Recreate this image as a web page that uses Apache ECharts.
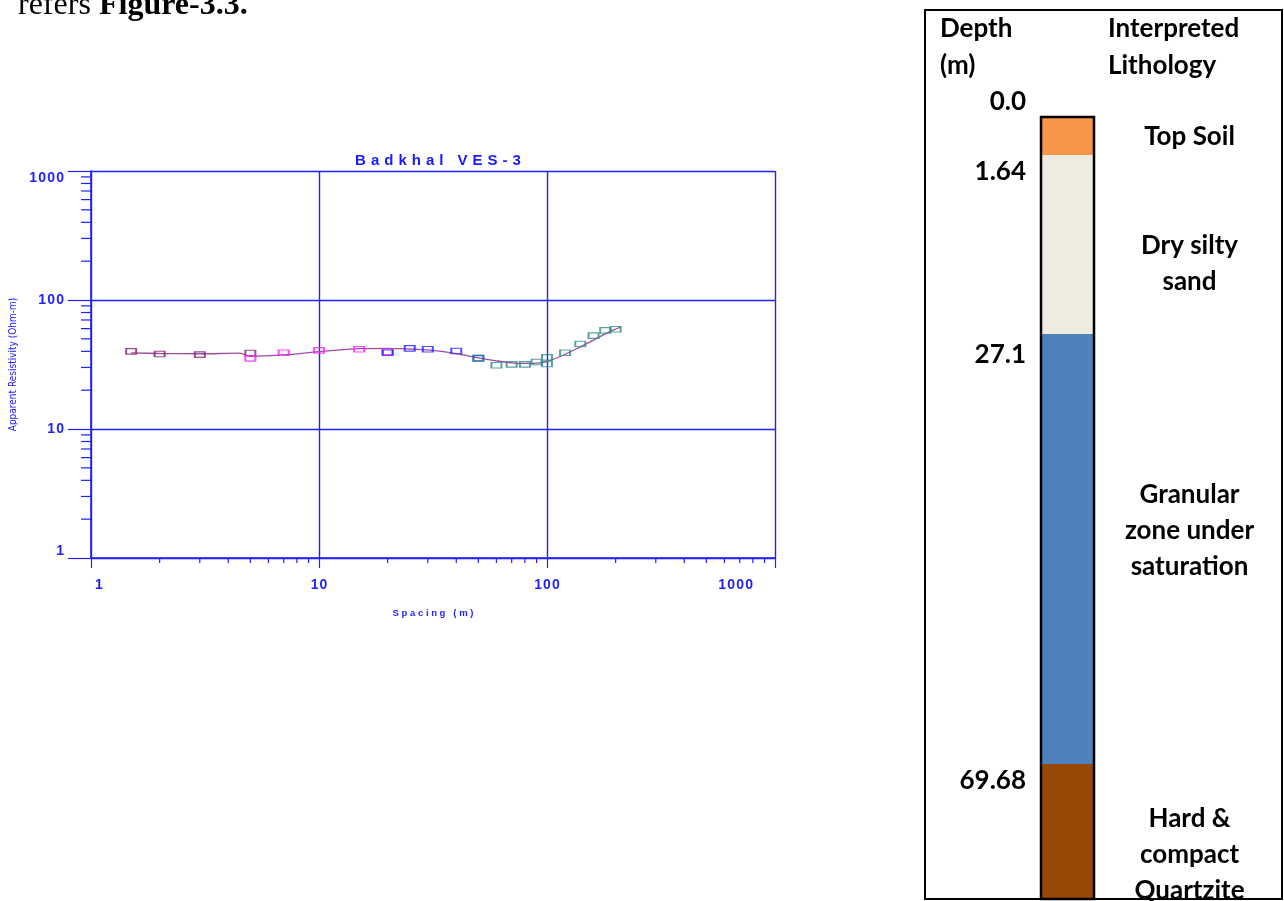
<!DOCTYPE html>
<html><head><meta charset="utf-8">
<script src="https://cdn.jsdelivr.net/npm/echarts@6/dist/echarts.min.js"></script>
<style>html,body{margin:0;padding:0;background:#fff}#c{width:1284px;height:901px}</style>
</head><body><div id="c"></div>
<script>
// ---------------- data ----------------
const chartTitle = 'Badkhal VES-3';
const xAxisName = 'Spacing (m)';
const yAxisName = 'Apparent Resistivity (Ohm-m)';
// observed apparent resistivity, by segment (AB/2 spacing in m, rho in Ohm-m)
const spacingA = [1.5, 2, 3, 5];
const rhoA = [40.0, 38.1, 37.7, 38.8];
const spacingB = [5, 7, 10, 15, 20];
const rhoB = [35.3, 39.0, 40.7, 41.5, 39.7];
const spacingC = [20, 25, 30, 40, 50];
const rhoC = [39.0, 42.2, 41.5, 40.2, 35.3];
const spacingD = [50, 60, 70, 80, 90, 100, 100, 120, 140, 160, 180, 200];
const rhoD = [35.6, 31.2, 31.7, 31.7, 33.1, 35.9, 31.9, 39.0, 45.6, 52.9, 58.2, 59.3];
// fitted model curve
const curveSpacing = [1.5, 2, 3, 4.5, 5, 7, 10, 15, 20, 25, 30, 40, 50, 60, 70, 80, 90, 100, 120, 140, 160, 180, 210];
const curveRho = [38.9, 38.5, 38.3, 38.7, 36.6, 37.5, 39.8, 42.0, 42.2, 41.7, 41.0, 38.4, 35.6, 33.8, 32.6, 32.3, 32.4, 33.3, 37.9, 43.3, 48.9, 54.7, 61.8];
// log-axis minor tick values
const minorTickValues = [2,3,4,5,6,7,8,9,20,30,40,50,60,70,80,90,200,300,400,500,600,700,800,900];

// lithology log
const depthHeader = ['Depth', '(m)'];
const lithoHeader = ['Interpreted', 'Lithology'];
const depthLabels = ['0.0', '1.64', '27.1', '69.68'];
const layerNames = ['Top Soil', 'Dry silty\nsand', 'Granular\nzone under\nsaturation', 'Hard &\ncompact\nQuartzite'];
const layerSchematicThickness = [38, 179, 430, 135];
const pageNote = ['refers ', 'Figure-3.3.'];

// ---------------- styles / layout ----------------
const BLUE = '#1f1fff';
const SANS = '"Liberation Sans", Arial, sans-serif';
const LITHO_FONT = 'Lato, "Noto Sans", sans-serif';
const segColors = ['#7d2470', '#ff1cff', '#2020ff', '#2f8c88'];
const layerColors = ['#F79646', '#EEECE1', '#4F81BD', '#984807'];
const layerLabelDy = [1, 19, -18, 23];
const depthLabelY = [102, 172, 355, 781];

const spaced = s => String(s).split('').join('\u200A');
const zip = (a, b) => a.map((v, i) => [v, b[i]]);

const scatter = (xs, ys, c) => ({
  type: 'scatter', xAxisIndex: 0, yAxisIndex: 0,
  data: zip(xs, ys), symbol: 'rect', symbolSize: [10, 5.5], z: 4,
  itemStyle: { color: 'rgba(255,255,255,0)', borderColor: c, borderWidth: 1.5 }
});

const lithoSeries = layerNames.map((name, i) => ({
  type: 'bar', xAxisIndex: 1, yAxisIndex: 1, stack: 'litho', barWidth: '100%',
  name, data: [layerSchematicThickness[i]], itemStyle: { color: layerColors[i] },
  label: {
    show: true, position: 'inside', offset: [122, layerLabelDy[i]], formatter: name,
    color: '#000', fontSize: 26, fontWeight: 'bold', fontFamily: LITHO_FONT, lineHeight: 36, align: 'center'
  }
}));

const txt = (text, x, y, align, extra) => ({
  type: 'text', x, y, z: 10,
  style: Object.assign({ text, fill: '#000', font: 'bold 26px ' + LITHO_FONT, align, verticalAlign: 'middle' }, extra || {})
});

const graphics = [
  { type: 'rect', shape: { x: 925, y: 10, width: 357, height: 889 }, style: { fill: 'none', stroke: '#000', lineWidth: 2 }, z: -1 },
  txt(depthHeader[0], 940, 29, 'left'), txt(depthHeader[1], 940, 66, 'left'),
  txt(lithoHeader[0], 1108, 29, 'left'), txt(lithoHeader[1], 1108, 66, 'left'),
  ...depthLabels.map((d, i) => txt(d, 1026, depthLabelY[i], 'right')),
  { type: 'text', x: 18, y: 6, style: { text: pageNote[0], fill: '#000', font: '32px "Liberation Serif", "Times New Roman", serif', align: 'left', verticalAlign: 'middle' } },
  { type: 'text', x: 99, y: 6, style: { text: pageNote[1], fill: '#000', font: 'bold 32px "Liberation Serif", "Times New Roman", serif', align: 'left', verticalAlign: 'middle' } }
];

const minorTick = (axis) => ({
  type: 'custom', xAxisIndex: 0, yAxisIndex: 0, silent: true, clip: false, z: 1,
  data: minorTickValues.map(v => axis === 'x' ? [v, 1] : [1, v]),
  renderItem: (params, api) => {
    const p = api.coord([api.value(0), api.value(1)]);
    const shape = axis === 'x'
      ? { x1: p[0], y1: p[1], x2: p[0], y2: p[1] + 5 }
      : { x1: p[0], y1: p[1], x2: p[0] - 10, y2: p[1] };
    return { type: 'line', shape, style: { stroke: BLUE, lineWidth: 1.2 } };
  }
});

const axisLabelBase = { color: BLUE, fontWeight: 'bold', fontSize: 14, fontFamily: SANS };

const option = {
  animation: false,
  backgroundColor: '#fff',
  title: {
    text: chartTitle.split('').join('\u2004'), left: 433, top: 148, textAlign: 'center',
    textStyle: { color: '#1a1aff', fontSize: 15, fontWeight: 'bold', fontFamily: SANS }
  },
  grid: [
    { left: 91, top: 171, width: 684, height: 387, outerBoundsMode: 'none' },
    { left: 1041, top: 117, width: 53, bottom: 2, show: true, borderColor: '#000', borderWidth: 2.5, z: 5, outerBoundsMode: 'none' }
  ],
  xAxis: [
    {
      type: 'log', logBase: 10, min: 1, max: 1000, gridIndex: 0,
      name: xAxisName.split('').join(' '), nameLocation: 'middle', nameGap: 50,
      nameTextStyle: { color: BLUE, fontSize: 9.5, fontWeight: 'bold', fontFamily: SANS },
      axisLine: { lineStyle: { color: BLUE, width: 1.6 } },
      axisTick: { length: 10, lineStyle: { color: BLUE, width: 1.2 } },
      axisLabel: Object.assign({}, axisLabelBase, {
        margin: 20, alignMinLabel: 'left', alignMaxLabel: 'right',
        formatter: v => v === 1000 ? '{e|' + spaced(v) + '}' : (v === 1 ? '{s|' + spaced(v) + '}' : spaced(v)),
        rich: {
          e: Object.assign({}, axisLabelBase, { padding: [0, 22, 0, 0] }),
          s: Object.assign({}, axisLabelBase, { padding: [0, 0, 0, 4] })
        }
      }),
      splitLine: { show: true, showMinLine: true, showMaxLine: true, lineStyle: { color: BLUE, width: 1.4 } }
    },
    { type: 'category', gridIndex: 1, data: ['col'], show: false }
  ],
  yAxis: [
    {
      type: 'log', logBase: 10, min: 1, max: 1000, gridIndex: 0,
      name: yAxisName, nameLocation: 'middle', nameGap: 73, nameRotate: 90, nameMoveOverlap: false,
      nameTextStyle: { color: '#1a1aff', fontSize: 10, fontFamily: '"Liberation Sans Narrow", "DejaVu Sans Condensed", sans-serif' },
      axisLine: { lineStyle: { color: BLUE, width: 1.6 } },
      axisTick: { length: 23, lineStyle: { color: BLUE, width: 1.2 } },
      axisLabel: Object.assign({}, axisLabelBase, {
        margin: 27, verticalAlignMinLabel: 'bottom', verticalAlignMaxLabel: 'top',
        formatter: v => spaced(v)
      }),
      splitLine: { show: true, showMinLine: true, showMaxLine: true, lineStyle: { color: BLUE, width: 1.4 } }
    },
    {
      type: 'value', gridIndex: 1, inverse: true, min: 0,
      max: layerSchematicThickness.reduce((a, b) => a + b, 0), show: false
    }
  ],
  graphic: graphics,
  series: [
    minorTick('x'), minorTick('y'),
    {
      type: 'line', xAxisIndex: 0, yAxisIndex: 0, data: zip(curveSpacing, curveRho),
      showSymbol: false, smooth: 0.3, z: 3,
      lineStyle: { color: '#a04ca0', width: 1.3 }
    },
    scatter(spacingA, rhoA, segColors[0]),
    scatter(spacingB, rhoB, segColors[1]),
    scatter(spacingC, rhoC, segColors[2]),
    scatter(spacingD, rhoD, segColors[3]),
    ...lithoSeries
  ]
};

const chart = echarts.init(document.getElementById('c'), null, { renderer: 'canvas' });
chart.setOption(option);
</script>
</body></html>
